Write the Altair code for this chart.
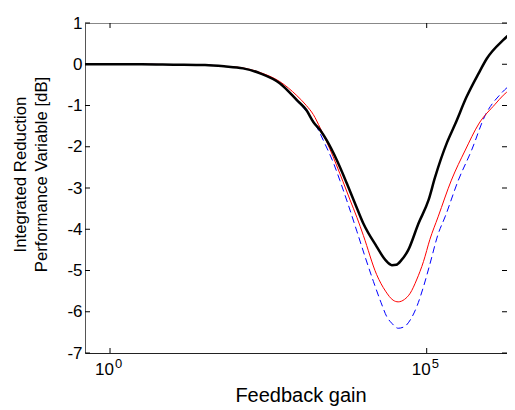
import altair as alt
import pandas as pd
import numpy as np

# log10(feedback gain) sample points and values [dB]
black_exp = [-0.4, 0.0, 0.5, 1.0, 1.5, 1.8, 2.1, 2.37, 2.68, 2.95, 3.10, 3.21, 3.32, 3.42, 3.58, 3.74,
             3.87, 4.0, 4.21, 4.35, 4.45, 4.52, 4.60, 4.71, 4.87, 5.03, 5.13, 5.32, 5.45, 5.63, 5.82,
             5.95, 6.21, 6.41]
black_val = [0.0, 0.0, 0.0, -0.01, -0.02, -0.05, -0.1, -0.22, -0.46, -0.87, -1.11, -1.40, -1.60, -1.84,
             -2.32, -2.89, -3.38, -3.86, -4.42, -4.75, -4.87, -4.86, -4.75, -4.50, -3.86, -3.29, -2.75,
             -1.90, -1.45, -0.79, -0.22, 0.14, 0.59, 0.86]

red_exp = [-0.4, 0.0, 0.5, 1.0, 1.5, 1.8, 2.1, 2.37, 2.68, 2.95, 3.10, 3.21, 3.32, 3.47, 3.68, 3.79,
           3.90, 4.0, 4.21, 4.35, 4.47, 4.55, 4.65, 4.74, 4.84, 4.95, 5.05, 5.18, 5.39, 5.61, 5.82,
           6.08, 6.21, 6.41]
red_val = [0.0, 0.0, 0.0, -0.01, -0.02, -0.05, -0.09, -0.2, -0.42, -0.76, -1.0, -1.22, -1.55, -2.05,
           -2.85, -3.29, -3.72, -4.15, -5.1, -5.5, -5.72, -5.76, -5.70, -5.55, -5.23, -4.78, -4.25,
           -3.70, -2.81, -2.08, -1.45, -0.97, -0.75, -0.52]

blue_exp = [-0.4, 0.0, 0.5, 1.0, 1.5, 1.8, 2.1, 2.37, 2.68, 2.95, 3.10, 3.26, 3.40, 3.53, 3.63, 3.76,
            3.90, 4.03, 4.16, 4.28, 4.37, 4.45, 4.55, 4.65, 4.74, 4.85, 4.95, 5.05, 5.18, 5.29, 5.50,
            5.71, 5.92, 6.18, 6.41]
blue_val = [0.0, 0.0, 0.0, -0.01, -0.02, -0.05, -0.1, -0.22, -0.47, -0.89, -1.14, -1.51, -1.95, -2.40,
            -2.82, -3.40, -4.06, -4.68, -5.27, -5.78, -6.12, -6.28, -6.40, -6.36, -6.20, -5.85, -5.39,
            -4.85, -4.12, -3.70, -2.81, -2.08, -1.25, -0.70, -0.40]

y_ticks = [-7, -6, -5, -4, -3, -2, -1, 0, 1]
x_ticks = [1, 100000]
x_exps = ["0", "5"]

FONT = "Liberation Sans"
W, H = 422, 330


def series(exps, vals):
    return pd.DataFrame({"gain": 10 ** np.array(exps), "val": vals})


df_black = series(black_exp, black_val)
df_red = series(red_exp, red_val)
df_blue = series(blue_exp, blue_val)
df_yt = pd.DataFrame({"val": y_ticks})
df_xt = pd.DataFrame({"gain": x_ticks, "t": x_exps})

xscale = alt.Scale(type="log", domain=[10 ** -0.395, 10 ** 6.268], nice=False)
yscale = alt.Scale(domain=[-7, 1], nice=False, zero=False)

xaxis = alt.Axis(values=x_ticks, labelExpr="'10'", labelOffset=-6, ticks=False, labelPadding=8,
                 labelFontSize=17, labelFont=FONT, labelColor="#000", labelFlush=False,
                 domainColor="#222", grid=False, title="Feedback gain", titleFont=FONT,
                 titleFontSize=20, titleFontWeight="normal", titleColor="#000", titlePadding=8,
                 titleX=215.5)
yaxis = alt.Axis(values=y_ticks, labelExpr="'' + datum.value", ticks=False, labelPadding=3,
                 labelFontSize=17, labelFont=FONT, labelColor="#000", labelFlush=False,
                 domainColor="#555", grid=False,
                 title=["Integrated Reduction", "Performance Variable [dB]"], titleFont=FONT,
                 titleFontSize=16.8, titleFontWeight="normal", titleColor="#000",
                 titleAngle=-90, titleAlign="center", titleBaseline="top", titleX=-73, titleY=151,
                 titleLineHeight=21)


def X():
    return alt.X("gain:Q", scale=xscale, axis=xaxis)


def Y():
    return alt.Y("val:Q", scale=yscale, axis=yaxis)


blue = alt.Chart(df_blue).mark_line(color="#0000ff", strokeWidth=1, strokeDash=[7, 4],
                                    interpolate="monotone", clip=True).encode(x=X(), y=Y())
red = alt.Chart(df_red).mark_line(color="#ff0000", strokeWidth=1,
                                  interpolate="monotone", clip=True).encode(x=X(), y=Y())
black = alt.Chart(df_black).mark_line(color="#000000", strokeWidth=2.5,
                                      interpolate="monotone", clip=True).encode(x=X(), y=Y())

top_line = alt.Chart(df_yt).mark_rule(color="#888", strokeWidth=1).encode(
    x=alt.value(0), x2=alt.value(W), y=alt.value(0.5))
ytick_l = alt.Chart(df_yt).mark_rule(color="#000", strokeWidth=1).encode(
    y=Y(), x=alt.value(0), x2=alt.value(5))
ytick_r = alt.Chart(df_yt).mark_rule(color="#000", strokeWidth=1).encode(
    y=Y(), x=alt.value(W - 5), x2=alt.value(W))
xtick_b = alt.Chart(df_xt).mark_rule(color="#000", strokeWidth=1).encode(
    x=X(), y=alt.value(H), y2=alt.value(H - 5))
xtick_t = alt.Chart(df_xt).mark_rule(color="#000", strokeWidth=1).encode(
    x=X(), y=alt.value(0), y2=alt.value(5))
xexp = alt.Chart(df_xt).mark_text(align="left", baseline="middle", dx=5, fontSize=13,
                                  font=FONT, color="#000").encode(
    x=X(), y=alt.value(341), text="t:N")

chart = alt.layer(blue, red, black, top_line, ytick_l, ytick_r, xtick_b, xtick_t, xexp).properties(
    width=W, height=H,
    padding={"left": 77, "top": 15, "right": 0, "bottom": 57},
    autosize="none",
).configure_view(stroke=None).configure(background="white")

chart.save("out.html", embed_options={"renderer": "svg", "actions": False})
